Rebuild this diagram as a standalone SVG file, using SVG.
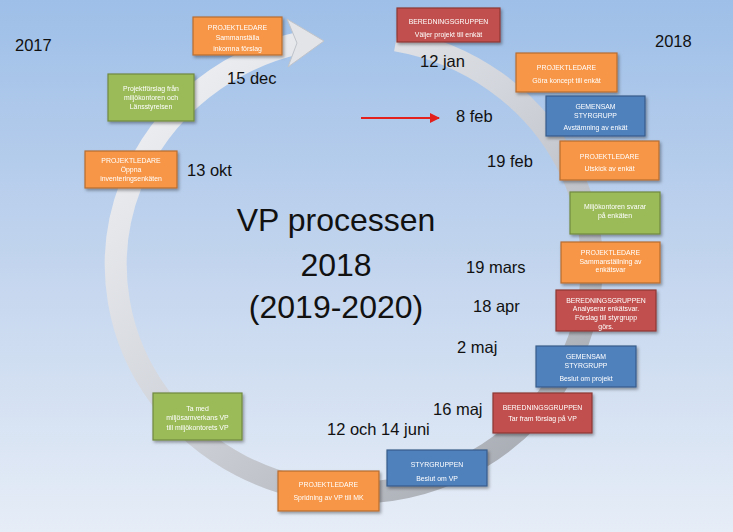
<svg xmlns="http://www.w3.org/2000/svg" width="733" height="532" viewBox="0 0 733 532">
<defs>
<linearGradient id="bg" x1="0" y1="0" x2="0" y2="1">
<stop offset="0" stop-color="#9ebfe8"/>
<stop offset="0.5" stop-color="#c3d5ee"/>
<stop offset="1" stop-color="#e6edf7"/>
</linearGradient>
<linearGradient id="ring" x1="0" y1="0" x2="1" y2="1">
<stop offset="0" stop-color="#f4f5f7"/>
<stop offset="0.45" stop-color="#d3d6dc"/>
<stop offset="1" stop-color="#9ea2aa"/>
</linearGradient>
<filter id="sh" x="-10%" y="-10%" width="130%" height="140%">
<feDropShadow dx="1.5" dy="2" stdDeviation="1.5" flood-color="#000" flood-opacity="0.35"/>
</filter>
<marker id="ah" viewBox="0 0 10 10" refX="9" refY="5" markerWidth="5" markerHeight="5" orient="auto">
<path d="M0,0 L10,5 L0,10 z" fill="#e3201b"/>
</marker>
</defs>
<style>
.or{fill:#f79646;stroke:#b66d31;stroke-width:1.2}
.rd{fill:#c0504d;stroke:#8c3836;stroke-width:1.2}
.bl{fill:#4f81bd;stroke:#385d8a;stroke-width:1.2}
.gr{fill:#9bbb59;stroke:#71893f;stroke-width:1.2}
.bx{filter:url(#sh)}
.t{font-family:"Liberation Sans","DejaVu Sans",sans-serif;font-size:6.9px;fill:#fff;text-anchor:middle}
.d{font-family:"Liberation Sans","DejaVu Sans",sans-serif;font-size:16.5px;fill:#111}
.big{font-family:"Liberation Sans","DejaVu Sans",sans-serif;font-size:32px;fill:#111;text-anchor:middle}
</style>
<rect width="733" height="532" fill="url(#bg)"/>
<g id="cycle">
<path d="M396,40.5 A238,228 0 1 1 299,43" fill="none" stroke="url(#ring)" stroke-width="22"/>
<polygon points="287,19 324,41 288,67 297,43" fill="#e2e4e8" stroke="#c0c4ca" stroke-width="1"/>
</g>
<g id="connectors">
<line x1="361" y1="118" x2="439" y2="118" stroke="#e3201b" stroke-width="2" marker-end="url(#ah)"/>
</g>
<g id="title">
<text class="big" x="336" y="231">VP processen</text>
<text class="big" x="336" y="276">2018</text>
<text class="big" x="336" y="318">(2019-2020)</text>
</g>
<g id="dates">
<text class="d" x="15" y="51">2017</text>
<text class="d" x="655" y="47">2018</text>
<text class="d" x="227" y="84">15 dec</text>
<text class="d" x="420" y="67">12 jan</text>
<text class="d" x="456" y="122">8 feb</text>
<text class="d" x="487" y="167">19 feb</text>
<text class="d" x="187" y="176">13 okt</text>
<text class="d" x="466" y="273">19 mars</text>
<text class="d" x="473" y="312">18 apr</text>
<text class="d" x="457" y="353">2 maj</text>
<text class="d" x="433" y="415">16 maj</text>
<text class="d" x="327" y="435">12 och 14 juni</text>
</g>
<g id="n1" class="bx"><rect class="or" x="193" y="17" width="89" height="38"/>
<text class="t" x="237.5" y="29.5">PROJEKTLEDARE</text><text class="t" x="237.5" y="40">Sammanställa</text><text class="t" x="237.5" y="50.5">inkomna förslag</text></g>
<g id="n2" class="bx"><rect class="rd" x="397" y="8" width="103" height="34"/>
<text class="t" x="448.5" y="23.5">BEREDNINGSGRUPPEN</text><text class="t" x="448.5" y="36.5">Väljer projekt till enkät</text></g>
<g id="n3" class="bx"><rect class="or" x="516" y="53" width="101" height="39"/>
<text class="t" x="566.5" y="69.5">PROJEKTLEDARE</text><text class="t" x="566.5" y="82.5">Göra koncept till enkät</text></g>
<g id="n4" class="bx"><rect class="bl" x="546" y="96" width="99" height="40"/>
<text class="t" x="595.5" y="108.5">GEMENSAM</text><text class="t" x="595.5" y="117.5">STYRGRUPP</text><text class="t" x="595.5" y="129.5">Avstämning av enkät</text></g>
<g id="n5" class="bx"><rect class="or" x="560" y="141" width="99" height="39"/>
<text class="t" x="609.5" y="158.5">PROJEKTLEDARE</text><text class="t" x="609.5" y="170.5">Utskick av enkät</text></g>
<g id="n6" class="bx"><rect class="gr" x="570" y="192" width="90" height="42"/>
<text class="t" x="615" y="208.5">Miljökontoren svarar</text><text class="t" x="615" y="217.5">på enkäten</text></g>
<g id="n7" class="bx"><rect class="or" x="561" y="242" width="99" height="41"/>
<text class="t" x="610.5" y="254.5">PROJEKTLEDARE</text><text class="t" x="610.5" y="263.5">Sammanställning av</text><text class="t" x="610.5" y="272">enkätsvar</text></g>
<g id="n8" class="bx"><rect class="rd" x="556" y="290" width="100" height="41"/>
<text class="t" x="606" y="302.5">BEREDNINGSGRUPPEN</text><text class="t" x="606" y="311">Analyserar enkätsvar.</text><text class="t" x="606" y="320">Förslag till styrgrupp</text><text class="t" x="606" y="329">görs.</text></g>
<g id="n9" class="bx"><rect class="bl" x="536" y="346" width="100" height="41"/>
<text class="t" x="586" y="358.5">GEMENSAM</text><text class="t" x="586" y="367.5">STYRGRUPP</text><text class="t" x="586" y="380.5">Beslut om projekt</text></g>
<g id="n10" class="bx"><rect class="rd" x="493" y="393" width="99" height="40"/>
<text class="t" x="542.5" y="409.5">BEREDNINGSGRUPPEN</text><text class="t" x="542.5" y="420.5">Tar fram förslag på VP</text></g>
<g id="n11" class="bx"><rect class="bl" x="387" y="450" width="100" height="36"/>
<text class="t" x="437" y="466.5">STYRGRUPPEN</text><text class="t" x="437" y="480.5">Beslut om VP</text></g>
<g id="n12" class="bx"><rect class="or" x="278" y="471" width="101" height="40"/>
<text class="t" x="328.5" y="486.5">PROJEKTLEDARE</text><text class="t" x="328.5" y="499.5">Spridning av VP till MK</text></g>
<g id="n13" class="bx"><rect class="gr" x="153" y="393" width="89" height="47"/>
<text class="t" x="197.5" y="410.5">Ta med</text><text class="t" x="197.5" y="419.5">miljösamverkans VP</text><text class="t" x="197.5" y="429.5">till miljökontorets VP</text></g>
<g id="n14" class="bx"><rect class="or" x="85" y="151" width="92" height="37"/>
<text class="t" x="131" y="162.5">PROJEKTLEDARE</text><text class="t" x="131" y="171.5">Öppna</text><text class="t" x="131" y="180.5">inventeringsenkäten</text></g>
<g id="n15" class="bx"><rect class="gr" x="108" y="74" width="86" height="47"/>
<text class="t" x="151" y="90.5">Projektförslag från</text><text class="t" x="151" y="99.5">miljökontoren och</text><text class="t" x="151" y="108.5">Länsstyrelsen</text></g>
</svg>
